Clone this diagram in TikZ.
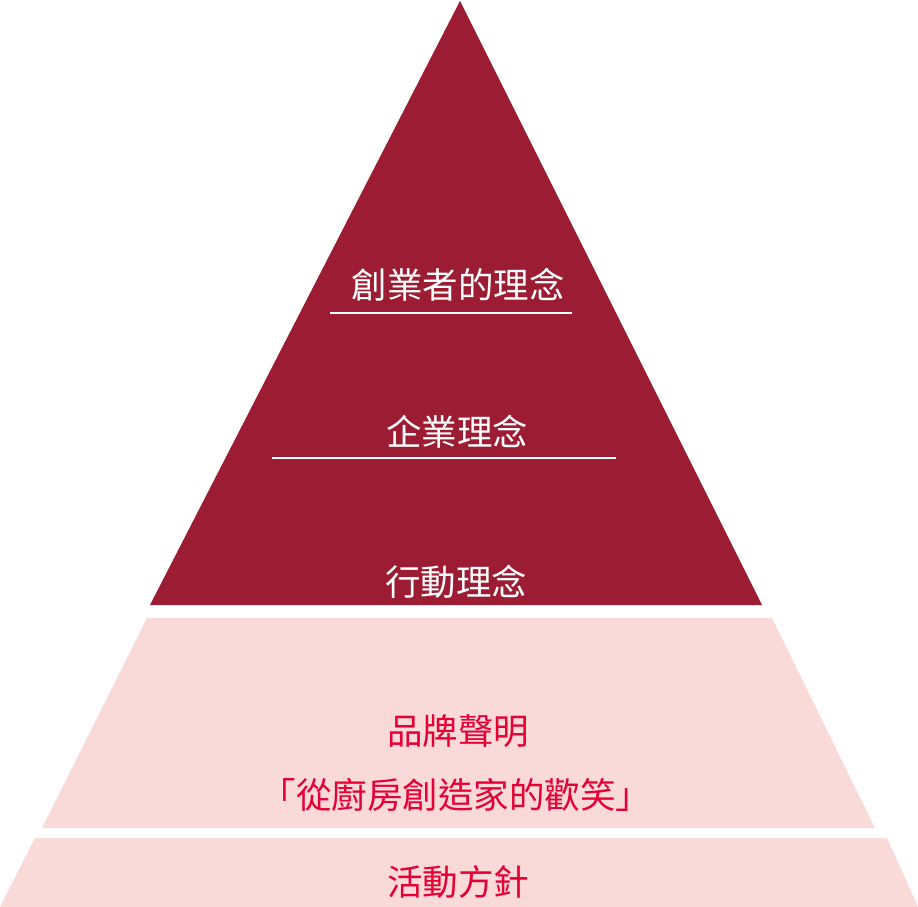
\documentclass[tikz,border=0pt]{standalone}
\usepackage{fontspec}
\setmainfont{Noto Sans CJK TC}
\usepackage{tikz}
\usetikzlibrary{positioning,calc}
\definecolor{wine}    {HTML}{9B1C33}
\definecolor{blush}   {HTML}{F9DAD9}
\definecolor{scarlet} {HTML}{E50035}
\tikzset{
  % --- layers
  peak/.style  = {fill=wine},
  band/.style  = {fill=blush},
  rule/.style  = {draw=white, line width=1.2pt},
  % --- texts
  inner/.style = {font=\fontsize{35.5}{42}\selectfont, text=white, inner sep=0pt},
  outer/.style = {font=\fontsize{35.5}{42}\selectfont, text=scarlet, inner sep=0pt},
}

\begin{document}
\begin{tikzpicture}[x=1pt, y=-1pt]
  \useasboundingbox (0,0) rectangle (918,907);

  % top: red triangle
  \fill[peak] (460,1) -- (762,605) -- (150,605) -- cycle;
  % middle and bottom bands
  \fill[band] (147,618) -- (772,618) -- (875,828) -- (42,828) -- cycle;
  \fill[band] (35,838) -- (887,838) -- (918,907) -- (0,907) -- cycle;

  % texts inside the triangle
  \node[inner] (founder) at (458,285) {創業者的理念};
  \node[inner] (corp)    at (457,432) {企業理念};
  \node[inner] (act)     at (456,582) {行動理念};

  \coordinate (r1a) at (330,313);  \coordinate (r1b) at (572,313);
  \coordinate (r2a) at (272,458);  \coordinate (r2b) at (616,458);
  \draw[rule] (r1a) -- (r1b);
  \draw[rule] (r2a) -- (r2b);

  % texts in the bands
  \node[outer] (brand)  at (458,731) {品牌聲明};
  \node[outer] (slogan) at (456,795) {「從廚房創造家的歡笑」};
  \node[outer] (policy) at (458,882) {活動方針};
\end{tikzpicture}
\end{document}
